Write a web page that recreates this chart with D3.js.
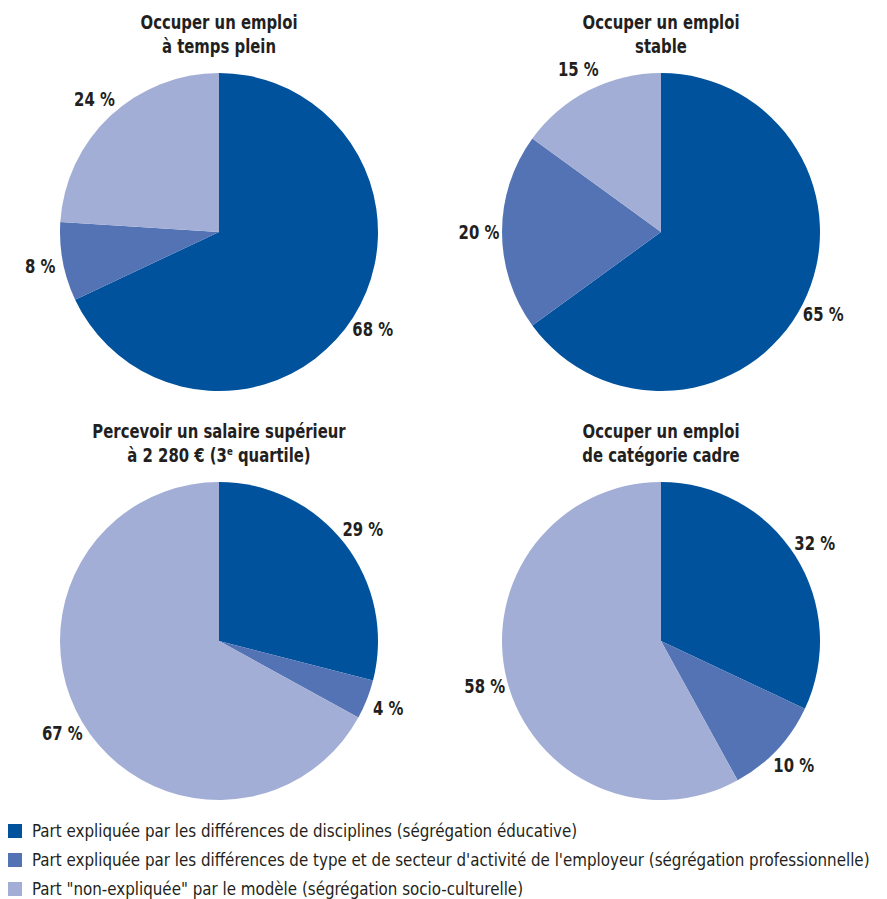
<!DOCTYPE html>
<html>
<head>
<meta charset="utf-8">
<script src="https://cdn.jsdelivr.net/npm/d3@7"></script>
<style>
  body { margin: 0; background: #fff; }
  svg text { font-family: "Liberation Sans Narrow", "DejaVu Sans Condensed", "Roboto Condensed", "Liberation Sans", sans-serif; }
</style>
</head>
<body>
<svg id="chart" width="887" height="899"></svg>
<script>
// 1: DATA
const titles = [
    ["Occuper un emploi", "à temps plein"],
    ["Occuper un emploi", "stable"],
    ["Percevoir un salaire supérieur", "à 2 280 € (3|e| quartile)"],
    ["Occuper un emploi", "de catégorie cadre"]
];
const legendLabels = [
    "Part expliquée par les différences de disciplines (ségrégation éducative)",
    "Part expliquée par les différences de type et de secteur d'activité de l'employeur (ségrégation professionnelle)",
    "Part \"non-expliquée\" par le modèle (ségrégation socio-culturelle)"
];
const eduShare = [68, 65, 29, 32];
const proShare = [8, 20, 4, 10];
const socShare = [24, 15, 67, 58];
const colors = ["#00529c", "#5473b4", "#a2aed6"];

// 2: LAYOUT
const svg = d3.select("#chart");
const radius = 159;
const labelRadius = 182;
const squeeze = 0.87; // narrow the bold text like the condensed original
const centers = [[219, 232], [661, 232], [219, 641], [661, 641]];

const pie = d3.pie().sort(null).value(d => d.value);
const arc = d3.arc().innerRadius(0).outerRadius(radius);
const labelArc = d3.arc().innerRadius(labelRadius).outerRadius(labelRadius);

titles.forEach((t, i) => {
    const values = [eduShare[i], proShare[i], socShare[i]].map((v, k) => ({ value: v, k }));
    const g = svg.append("g").attr("transform", `translate(${centers[i][0]},${centers[i][1]})`);

    g.selectAll("path")
        .data(pie(values))
        .enter()
        .append("path")
        .attr("d", arc)
        .attr("fill", d => colors[d.data.k]);

    g.selectAll(".lbl")
        .data(pie(values))
        .enter()
        .append("text")
        .attr("class", "lbl")
        .attr("transform", d => `translate(${labelArc.centroid(d)}) scale(${squeeze},1)`)
        .attr("text-anchor", "middle")
        .attr("dy", "0.35em")
        .style("font-size", "19px")
        .style("font-weight", "bold")
        .style("fill", "#231f20")
        .text(d => d.data.value + " %");

    // title (two lines)
    const title = g.append("text")
        .attr("text-anchor", "middle")
        .attr("transform", `translate(0, ${-radius - 44}) scale(${squeeze},1)`)
        .style("font-size", "19px")
        .style("font-weight", "bold")
        .style("fill", "#231f20");
    t.forEach((line, j) => {
        const parts = line.split("|");
        const ts = title.append("tspan").attr("x", 0).attr("dy", j === 0 ? 0 : 24);
        ts.text(parts[0]);
        if (parts.length > 1) {
            title.append("tspan").attr("dy", -7).style("font-size", "11px").text(parts[1]);
            title.append("tspan").attr("dy", 7).text(parts[2]);
        }
    });
});

// 3: LEGEND
const legend = svg.selectAll(".legend")
    .data(legendLabels)
    .enter()
    .append("g")
    .attr("class", "legend")
    .attr("transform", (d, i) => `translate(8, ${824 + i * 29})`);

legend.append("rect")
    .attr("width", 14)
    .attr("height", 14)
    .style("fill", (d, i) => colors[i]);

legend.append("text")
    .attr("x", 24)
    .attr("y", 13)
    .attr("textLength", null)
    .text(d => d)
    .style("font-size", "16.8px")
    .style("fill", "#231f20");
</script>
</body>
</html>
